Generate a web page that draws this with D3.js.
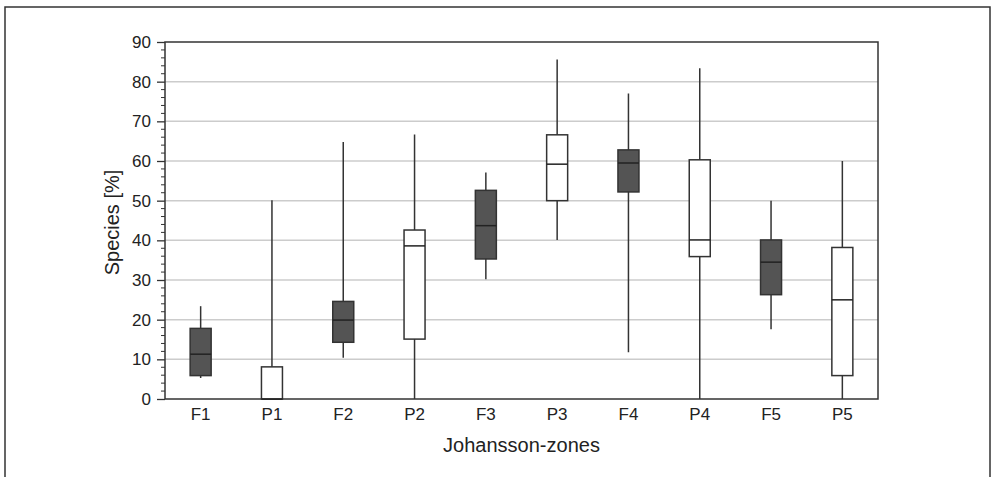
<!DOCTYPE html>
<html>
<head>
<meta charset="utf-8">
<script src="https://cdn.jsdelivr.net/npm/d3@7"></script>
<style>
  body { margin: 0; background: #fff; }
  text { font-family: "Liberation Sans", Arial, sans-serif; fill: #222; }
</style>
</head>
<body>
<script>
// Johansson-zones, values
var zones   = ["F1", "P1", "F2", "P2", "F3", "P3", "F4", "P4", "F5", "P5"];
var kinds   = ["F", "P", "F", "P", "F", "P", "F", "P", "F", "P"];
var minVals = [5.3, 0, 10.4, 0, 30.2, 40.1, 11.8, 0, 17.6, 0];
var q1Vals  = [5.9, 0, 14.3, 15.1, 35.3, 50.0, 52.2, 35.9, 26.3, 5.9];
var medVals = [11.3, 0, 19.9, 38.6, 43.7, 59.2, 59.5, 40.1, 34.5, 25.0];
var q3Vals  = [17.8, 8.1, 24.6, 42.6, 52.6, 66.6, 62.8, 60.3, 40.1, 38.2];
var maxVals = [23.4, 50.1, 64.8, 66.7, 57.1, 85.6, 77.0, 83.4, 50.0, 60.0];
var yTicks  = [0, 10, 20, 30, 40, 50, 60, 70, 80, 90];

var width = 991, height = 477;
var margin = {left: 165, right: 113, top: 42, bottom: 78};
var font = "'Liberation Sans', Arial, sans-serif";

var data = zones.map(function(z, i) {
  return {zone: z, kind: kinds[i], min: minVals[i], q1: q1Vals[i],
          med: medVals[i], q3: q3Vals[i], max: maxVals[i]};
});

var svg = d3.select("body").append("svg")
    .attr("width", width)
    .attr("height", height);

// outer frame
svg.append("rect")
    .attr("x", 5).attr("y", 7)
    .attr("width", 985).attr("height", 480)
    .attr("fill", "none")
    .attr("stroke", "#333")
    .attr("stroke-width", 1.5);

var x = d3.scaleBand()
    .domain(zones)
    .range([margin.left, width - margin.right])
    .padding(0);

var y = d3.scaleLinear()
    .domain([0, 90])
    .range([height - margin.bottom, margin.top]);

var g = svg.append("g");

// grid
g.append("g")
  .selectAll("line")
  .data(yTicks.slice(1, -1))
  .enter().append("line")
    .attr("x1", margin.left)
    .attr("x2", width - margin.right)
    .attr("y1", function(d) { return y(d); })
    .attr("y2", function(d) { return y(d); })
    .attr("stroke", "#ccc")
    .attr("stroke-width", 1.5);

// minor ticks every 2
var minor = d3.range(0, 91, 2).filter(function(d) { return d % 10 !== 0; });
g.append("g")
  .selectAll("line")
  .data(minor)
  .enter().append("line")
    .attr("x1", margin.left - 4)
    .attr("x2", margin.left)
    .attr("y1", function(d) { return y(d); })
    .attr("y2", function(d) { return y(d); })
    .attr("stroke", "#333")
    .attr("stroke-width", 1);

var yAxis = g.append("g")
    .attr("transform", "translate(" + margin.left + ",0)")
    .call(d3.axisLeft(y).tickValues(yTicks).tickSize(8).tickPadding(6));
yAxis.select(".domain").remove();
yAxis.selectAll("line").attr("stroke", "#333").attr("stroke-width", 1.3);
yAxis.selectAll("text").attr("font-size", 17).attr("fill", "#222")
    .style("font-family", font);

var xAxis = g.append("g")
    .attr("transform", "translate(0," + (height - margin.bottom) + ")")
    .call(d3.axisBottom(x).tickSize(0).tickPadding(9));
xAxis.select(".domain").remove();
xAxis.selectAll("text").attr("font-size", 17).attr("fill", "#222")
    .style("font-family", font);

// plot frame
g.append("rect")
    .attr("x", margin.left)
    .attr("y", margin.top)
    .attr("width", width - margin.left - margin.right)
    .attr("height", height - margin.top - margin.bottom)
    .attr("fill", "none")
    .attr("stroke", "#333")
    .attr("stroke-width", 1.5);

var boxW = 21;
var boxes = g.append("g")
  .selectAll("g")
  .data(data)
  .enter().append("g")
    .attr("transform", function(d) { return "translate(" + (x(d.zone) + x.bandwidth() / 2) + ",0)"; });

boxes.append("line")
    .attr("y1", function(d) { return y(d.min); })
    .attr("y2", function(d) { return y(d.max); })
    .attr("stroke", "#333")
    .attr("stroke-width", 1.5);

boxes.append("rect")
    .attr("x", -boxW / 2)
    .attr("width", boxW)
    .attr("y", function(d) { return y(d.q3); })
    .attr("height", function(d) { return y(d.q1) - y(d.q3); })
    .attr("fill", function(d) { return d.kind === "F" ? "#545454" : "#fff"; })
    .attr("stroke", "#333")
    .attr("stroke-width", 1.5);

boxes.append("line")
    .attr("x1", -boxW / 2)
    .attr("x2", boxW / 2)
    .attr("y1", function(d) { return y(d.med); })
    .attr("y2", function(d) { return y(d.med); })
    .attr("stroke", "#222")
    .attr("stroke-width", 1.5);

// axis titles
svg.append("text")
    .attr("x", (margin.left + width - margin.right) / 2)
    .attr("y", 452)
    .attr("text-anchor", "middle")
    .attr("font-size", 20)
    .text("Johansson-zones");

svg.append("text")
    .attr("transform", "translate(119," + ((margin.top + height - margin.bottom) / 2 + 2) + ")rotate(-90)")
    .attr("text-anchor", "middle")
    .attr("font-size", 20)
    .text("Species [%]");
</script>
</body>
</html>
